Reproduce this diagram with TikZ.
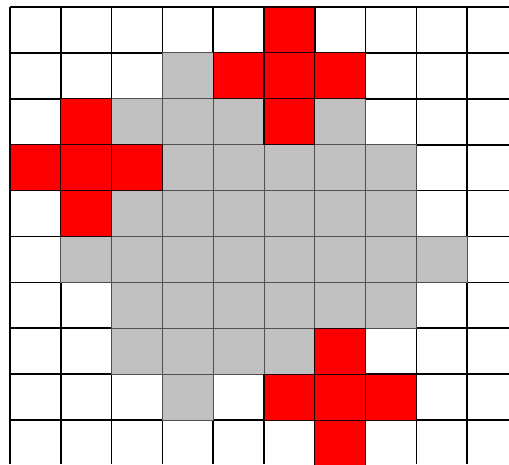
\documentclass[tikz,border=0pt]{standalone}
\begin{document}
\begin{tikzpicture}[x=1pt,y=-1pt,
  gridline/.style={black,line width=1.7pt},
  graycell/.style={fill={rgb,255:red,192;green,192;blue,192},draw={rgb,255:red,80;green,80;blue,80},line width=1pt},
  redcell/.style={fill={rgb,255:red,255;green,0;blue,0},draw={rgb,255:red,30;green,0;blue,0},line width=1.1pt}]
\def\cw{50.8}
\def\ch{45.9}
\def\ox{10}
\def\oy{7}
\useasboundingbox (0,0) rectangle (509,464);
\fill[white] (0,0) rectangle (509,464);
% grid
\foreach \i in {0,...,9} {
  \draw[gridline] ({\ox+\i*\cw},\oy) -- ({\ox+\i*\cw},464);
  \draw[gridline] (\ox,{\oy+\i*\ch}) -- (509,{\oy+\i*\ch});
}
% gray cells (col/row)
\foreach \c/\r in {3/1,
  2/2,3/2,4/2,6/2,
  3/3,4/3,5/3,6/3,7/3,
  2/4,3/4,4/4,5/4,6/4,7/4,
  1/5,2/5,3/5,4/5,5/5,6/5,7/5,8/5,
  2/6,3/6,4/6,5/6,6/6,7/6,
  2/7,3/7,4/7,5/7,
  3/8} {
  \draw[graycell] ({\ox+\c*\cw},{\oy+\r*\ch}) rectangle ++(\cw,\ch);
}
% red cells
\foreach \c/\r in {5/0,
  4/1,5/1,6/1,
  1/2,5/2,
  0/3,1/3,2/3,
  1/4,
  6/7,
  5/8,6/8,7/8,
  6/9} {
  \draw[redcell] ({\ox+\c*\cw},{\oy+\r*\ch}) rectangle ++(\cw,\ch);
}
\end{tikzpicture}
\end{document}
